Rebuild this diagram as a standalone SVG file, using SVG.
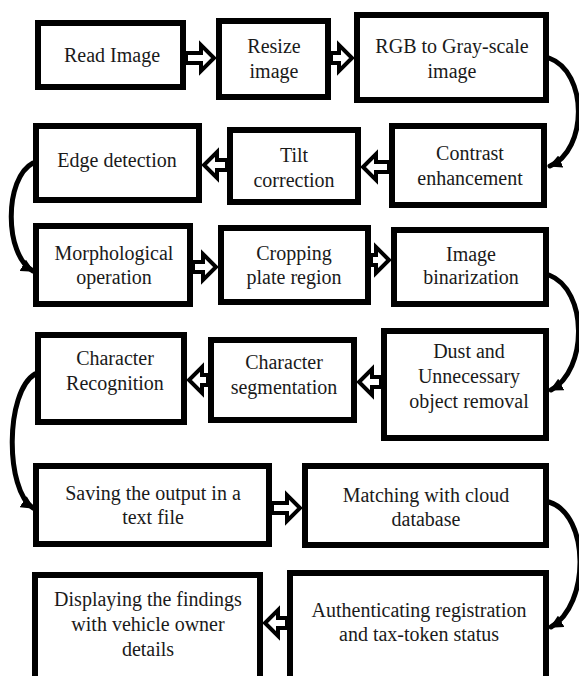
<svg xmlns="http://www.w3.org/2000/svg" width="579" height="676" viewBox="0 0 579 676">
<style>
.box{fill:#fff;stroke:#000;stroke-width:6}
.t{font-family:"Liberation Serif","Times New Roman",serif;font-size:20px;fill:#1a1a1a;text-anchor:middle}
.blk{fill:#fff;stroke:#000;stroke-width:4;stroke-linejoin:miter}
.crv{fill:none;stroke:#000;stroke-width:5;stroke-linecap:round}
</style>
<defs>
<marker id="ah" viewBox="0 0 10 10" refX="9" refY="5" markerWidth="13" markerHeight="13" markerUnits="userSpaceOnUse" orient="auto">
<path d="M0,0 L10,5 L0,10 z" fill="#000"/>
</marker>
</defs>
<rect width="579" height="676" fill="#fff"/>

<g id="n1"><rect class="box" x="38" y="23" width="145" height="64"/><text class="t" x="112" y="62">Read Image</text></g>
<g id="n2"><rect class="box" x="219" y="21" width="109" height="76"/><text class="t" x="274" y="53">Resize</text><text class="t" x="274" y="78">image</text></g>
<g id="n3"><rect class="box" x="357" y="15" width="189" height="85"/><text class="t" x="452" y="53">RGB to Gray-scale</text><text class="t" x="452" y="78">image</text></g>
<g id="n4"><rect class="box" x="36" y="126" width="163" height="74"/><text class="t" x="117" y="167">Edge detection</text></g>
<g id="n5"><rect class="box" x="230" y="130" width="128" height="72"/><text class="t" x="294" y="162">Tilt</text><text class="t" x="294" y="187">correction</text></g>
<g id="n6"><rect class="box" x="392" y="126" width="152" height="79"/><text class="t" x="470" y="160">Contrast</text><text class="t" x="470" y="185">enhancement</text></g>
<g id="n7"><rect class="box" x="36" y="226" width="154" height="78"/><text class="t" x="114" y="260">Morphological</text><text class="t" x="114" y="284">operation</text></g>
<g id="n8"><rect class="box" x="221" y="228" width="147" height="74"/><text class="t" x="294" y="260">Cropping</text><text class="t" x="294" y="284">plate region</text></g>
<g id="n9"><rect class="box" x="394" y="230" width="152" height="74"/><text class="t" x="471" y="261">Image</text><text class="t" x="471" y="284">binarization</text></g>
<g id="n10"><rect class="box" x="38" y="335" width="146" height="87"/><text class="t" x="115" y="365">Character</text><text class="t" x="115" y="390">Recognition</text></g>
<g id="n11"><rect class="box" x="211" y="340" width="143" height="80"/><text class="t" x="284" y="369">Character</text><text class="t" x="284" y="394">segmentation</text></g>
<g id="n12"><rect class="box" x="384" y="331" width="162" height="107"/><text class="t" x="469" y="358">Dust and</text><text class="t" x="469" y="383">Unnecessary</text><text class="t" x="469" y="408">object removal</text></g>
<g id="n13"><rect class="box" x="36" y="466" width="233" height="78"/><text class="t" x="153" y="500">Saving the output in a</text><text class="t" x="153" y="524">text file</text></g>
<g id="n14"><rect class="box" x="305" y="466" width="241" height="79"/><text class="t" x="426" y="502">Matching with cloud</text><text class="t" x="426" y="526">database</text></g>
<g id="n15"><rect class="box" x="35" y="575" width="225" height="120"/><text class="t" x="148" y="606">Displaying the findings</text><text class="t" x="148" y="631">with vehicle owner</text><text class="t" x="148" y="656">details</text></g>
<g id="n16"><rect class="box" x="290" y="573" width="256" height="120"/><text class="t" x="419" y="617">Authenticating registration</text><text class="t" x="419" y="641">and tax-token status</text></g>

<g id="connectors">
<polygon class="blk" points="186,53 201,53 201,45 214,58 201,71 201,63 186,63"/>
<polygon class="blk" points="331,53 339,53 339,45 352,58 339,71 339,63 331,63"/>
<polygon class="blk" points="389,162 376,162 376,154 363,167 376,180 376,172 389,172"/>
<polygon class="blk" points="227,160 217,160 217,152 204,165 217,178 217,170 227,170"/>
<polygon class="blk" points="193,262 203,262 203,254 216,267 203,280 203,272 193,272"/>
<polygon class="blk" points="371,255 376,255 376,247 389,260 376,273 376,265 371,265"/>
<polygon class="blk" points="381,377 372,377 372,369 359,382 372,395 372,387 381,387"/>
<polygon class="blk" points="208,375 202,375 202,367 189,380 202,393 202,385 208,385"/>
<polygon class="blk" points="272,503 287,503 287,495 300,508 287,521 287,513 272,513"/>
<polygon class="blk" points="287,618 278,618 278,610 265,623 278,636 278,628 287,628"/>
<path class="crv" d="M549 58 C588 72 588 150 550 166" marker-end="url(#ah)"/>
<path class="crv" d="M33 163 C4 178 4 255 33 271" marker-end="url(#ah)"/>
<path class="crv" d="M549 275 C588 290 588 370 551 390" marker-end="url(#ah)"/>
<path class="crv" d="M35 374 C5 392 5 490 33 508" marker-end="url(#ah)"/>
<path class="crv" d="M549 502 C590 515 590 605 551 627" marker-end="url(#ah)"/>
</g>
</svg>
